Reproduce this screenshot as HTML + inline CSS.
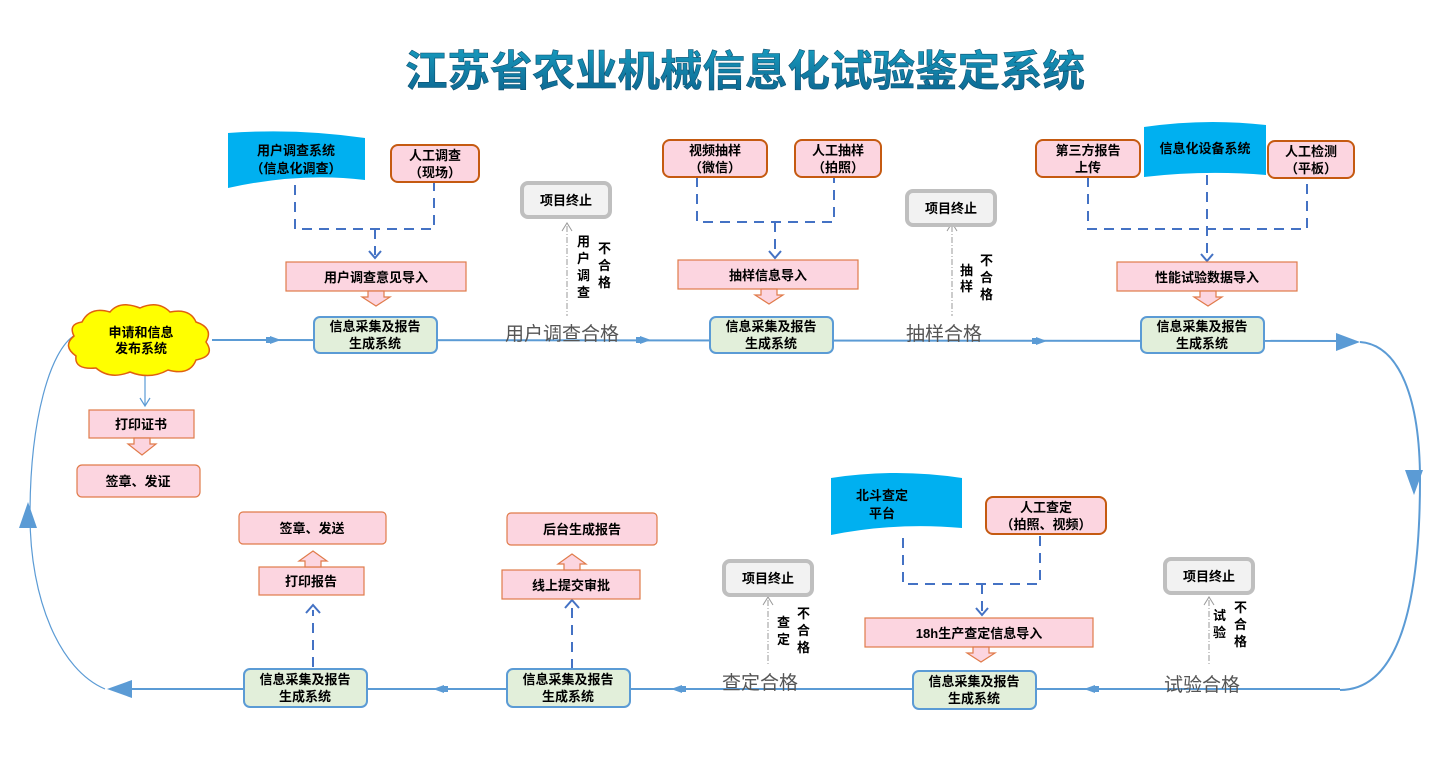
<!DOCTYPE html>
<html><head><meta charset="utf-8"><style>
html,body{margin:0;padding:0;background:#fff;}
svg{display:block;font-family:"Liberation Sans","Noto Sans CJK SC",sans-serif;}
.b{font-weight:bold;font-size:13px;fill:#000;text-anchor:middle;}
.g{font-size:19px;fill:#555;}
.v{font-weight:bold;font-size:13px;fill:#000;}
</style></head><body>
<svg width="1448" height="757" viewBox="0 0 1448 757" xmlns="http://www.w3.org/2000/svg">
<defs>
<linearGradient id="tg" x1="0" y1="0" x2="0" y2="1"><stop offset="0" stop-color="#1aa6c8"/><stop offset="1" stop-color="#0b5f8a"/></linearGradient>
</defs>
<text x="745" y="86" text-anchor="middle" font-size="42.5" font-weight="bold" fill="url(#tg)" stroke="#0b4f70" stroke-width="0.6" style="font-family:'Noto Sans CJK SC',sans-serif">江苏省农业机械信息化试验鉴定系统</text>

<g stroke="#5b9bd5" stroke-width="2" fill="none">
<line x1="212" y1="340" x2="1345" y2="341"/>
<path d="M1360 342 C1400 345 1420 400 1420 480 C1420 600 1400 690 1340 690"/>
<line x1="1340" y1="689" x2="120" y2="689"/>
<path d="M105 689 C60 670 30 600 30 515 C30 420 50 350 75 335" stroke-width="1.2"/>
<line x1="145" y1="370" x2="145" y2="405" stroke-width="1.2"/>
</g>
<g fill="#5b9bd5">
<polygon points="1336,333 1360,342 1336,351"/>
<polygon points="1405,470 1423,470 1414,495"/>
<polygon points="132,680 107,689 132,698"/>
<polygon points="19,528 37,528 28,502"/>
<polygon points="270,336 281,340 270,344"/><rect x="266" y="337" width="5" height="6"/>
<polygon points="640,336 651,340 640,344"/><rect x="636" y="337" width="5" height="6"/>
<polygon points="1036,337 1047,341 1036,345"/><rect x="1032" y="338" width="5" height="6"/>
<polygon points="1095,685 1084,689 1095,693"/><rect x="1094" y="686" width="5" height="6"/>
<polygon points="682,685 671,689 682,693"/><rect x="681" y="686" width="5" height="6"/>
<polygon points="444,685 433,689 444,693"/><rect x="443" y="686" width="5" height="6"/>
</g>
<polyline points="140,398 145,406 150,398" fill="none" stroke="#5b9bd5" stroke-width="1.2"/>

<g stroke="#4472c4" stroke-width="2" fill="none" stroke-dasharray="10,7">
<path d="M295 185 V229 H434 V182"/><path d="M375 229 V255"/>
<path d="M697 177 V222 H834 V177"/><path d="M775 222 V255"/>
<path d="M1088 177 V229 H1307 V177"/><path d="M1207 175 V258"/>
<path d="M903 538 V584 H1040 V534"/><path d="M982 584 V612"/>
<path d="M313 667 V610"/><path d="M572 669 V605"/>
</g>
<g stroke="#4472c4" stroke-width="2" fill="none">
<polyline points="369,251 375,258 381,251"/><polyline points="769,251 775,258 781,251"/>
<polyline points="1201,254 1207,261 1213,254"/><polyline points="976,608 982,615 988,608"/>
<polyline points="306,613 313,605 320,613"/><polyline points="565,608 572,600 579,608"/>
</g>
<g stroke="#999" stroke-width="1" fill="none" stroke-dasharray="6,2,1,2">
<line x1="567" y1="226" x2="567" y2="316"/><line x1="952" y1="226" x2="952" y2="316"/>
<line x1="768" y1="600" x2="768" y2="664"/><line x1="1209" y1="600" x2="1209" y2="664"/>
</g>
<g stroke="#999" stroke-width="1" fill="none">
<polyline points="562,231 567,223 572,231"/><polyline points="947,231 952,223 957,231"/>
<polyline points="763,605 768,597 773,605"/><polyline points="1204,605 1209,597 1214,605"/>
</g>

<g fill="#00b0f0">
<path d="M228 133 Q296 128 365 138 V180 Q300 172 228 188 Z"/>
<path d="M1144 127 Q1205 118 1266 125 V175 Q1205 170 1144 177 Z"/>
<path d="M831 478 Q896 468 962 478 V528 Q896 522 831 535 Z"/>
</g>
<text class="b" x="296" y="155">用户调查系统</text><text class="b" x="296" y="173">（信息化调查）</text>
<text class="b" x="1205" y="153">信息化设备系统</text>
<text class="b" x="882" y="500">北斗查定</text><text class="b" x="882" y="518">平台</text>

<g fill="#fcd5e0" stroke="#c55a11" stroke-width="2">
<rect x="391" y="145" width="88" height="37" rx="7"/>
<rect x="663" y="140" width="104" height="37" rx="7"/>
<rect x="795" y="140" width="86" height="37" rx="7"/>
<rect x="1036" y="140" width="104" height="37" rx="7"/>
<rect x="1268" y="141" width="86" height="37" rx="7"/>
<rect x="986" y="497" width="120" height="37" rx="7"/>
</g>
<text class="b" x="435" y="160">人工调查</text><text class="b" x="435" y="177">（现场）</text>
<text class="b" x="715" y="155">视频抽样</text><text class="b" x="715" y="172">（微信）</text>
<text class="b" x="838" y="155">人工抽样</text><text class="b" x="838" y="172">（拍照）</text>
<text class="b" x="1088" y="155">第三方报告</text><text class="b" x="1088" y="172">上传</text>
<text class="b" x="1311" y="156">人工检测</text><text class="b" x="1311" y="173">（平板）</text>
<text class="b" x="1046" y="512">人工查定</text><text class="b" x="1046" y="529">（拍照、视频）</text>

<g fill="#fcd5e0" stroke="#e07b4a" stroke-width="1.2">
<rect x="286" y="262" width="180" height="29"/>
<rect x="678" y="260" width="180" height="29"/>
<rect x="1117" y="262" width="180" height="29"/>
<rect x="865" y="618" width="228" height="29"/>
<rect x="259" y="567" width="105" height="28"/>
<rect x="502" y="570" width="138" height="29"/>
<rect x="89" y="410" width="105" height="28"/>
<rect x="239" y="512" width="147" height="32" rx="4"/>
<rect x="507" y="513" width="150" height="32" rx="4"/>
<rect x="77" y="465" width="123" height="32" rx="5"/>
<polygon points="368,291 384,291 384,297 390,297 376,306 362,297 368,297"/>
<polygon points="761,289 777,289 777,295 783,295 769,304 755,295 761,295"/>
<polygon points="1200,291 1216,291 1216,297 1222,297 1208,306 1194,297 1200,297"/>
<polygon points="973,647 989,647 989,653 995,653 981,662 967,653 973,653"/>
<polygon points="134,438 150,438 150,444 156,444 142,455 128,444 134,444"/>
<polygon points="305,567 321,567 321,561 327,561 313,551 299,561 305,561"/>
<polygon points="564,570 580,570 580,564 586,564 572,554 558,564 564,564"/>
</g>
<text class="b" x="376" y="282">用户调查意见导入</text>
<text class="b" x="768" y="280">抽样信息导入</text>
<text class="b" x="1207" y="282">性能试验数据导入</text>
<text class="b" x="979" y="638">18h生产查定信息导入</text>
<text class="b" x="311" y="586">打印报告</text>
<text class="b" x="571" y="590">线上提交审批</text>
<text class="b" x="141" y="429" font-size="14">打印证书</text>
<text class="b" x="312" y="533" font-size="14">签章、发送</text>
<text class="b" x="582" y="534" font-size="14">后台生成报告</text>
<text class="b" x="138" y="486" font-size="14">签章、发证</text>

<g fill="#e2efda" stroke="#5b9bd5" stroke-width="2">
<rect x="314" y="317" width="123" height="36" rx="6"/>
<rect x="710" y="317" width="123" height="36" rx="6"/>
<rect x="1141" y="317" width="123" height="36" rx="6"/>
<rect x="244" y="669" width="123" height="38" rx="6"/>
<rect x="507" y="669" width="123" height="38" rx="6"/>
<rect x="913" y="671" width="123" height="38" rx="6"/>
</g>
<text class="b" x="375" y="331">信息采集及报告</text><text class="b" x="375" y="348">生成系统</text>
<text class="b" x="771" y="331">信息采集及报告</text><text class="b" x="771" y="348">生成系统</text>
<text class="b" x="1202" y="331">信息采集及报告</text><text class="b" x="1202" y="348">生成系统</text>
<text class="b" x="305" y="684">信息采集及报告</text><text class="b" x="305" y="701">生成系统</text>
<text class="b" x="568" y="684">信息采集及报告</text><text class="b" x="568" y="701">生成系统</text>
<text class="b" x="974" y="686">信息采集及报告</text><text class="b" x="974" y="703">生成系统</text>

<g fill="#f2f2f2" stroke="#bfbfbf" stroke-width="4">
<rect x="522" y="183" width="88" height="34" rx="6"/>
<rect x="907" y="191" width="88" height="34" rx="6"/>
<rect x="724" y="561" width="88" height="34" rx="6"/>
<rect x="1165" y="559" width="88" height="34" rx="6"/>
</g>
<text class="b" x="566" y="205">项目终止</text>
<text class="b" x="951" y="213">项目终止</text>
<text class="b" x="768" y="583">项目终止</text>
<text class="b" x="1209" y="581">项目终止</text>

<g class="v">
<text x="577" y="246">用</text><text x="577" y="263">户</text><text x="577" y="280">调</text><text x="577" y="297">查</text>
<text x="598" y="253">不</text><text x="598" y="270">合</text><text x="598" y="287">格</text>
<text x="960" y="275">抽</text><text x="960" y="291">样</text>
<text x="980" y="265">不</text><text x="980" y="282">合</text><text x="980" y="299">格</text>
<text x="777" y="627">查</text><text x="777" y="644">定</text>
<text x="797" y="618">不</text><text x="797" y="635">合</text><text x="797" y="652">格</text>
<text x="1213" y="620">试</text><text x="1213" y="637">验</text>
<text x="1234" y="612">不</text><text x="1234" y="629">合</text><text x="1234" y="646">格</text>
</g>
<text class="g" x="505" y="340">用户调查合格</text>
<text class="g" x="906" y="340">抽样合格</text>
<text class="g" x="722" y="689">查定合格</text>
<text class="g" x="1164" y="691">试验合格</text>

<path d="M82 322 Q90 306 110 312 Q120 300 140 308 Q158 300 170 312 Q190 308 196 322 Q214 328 206 342 Q216 356 196 360 Q190 376 168 370 Q150 380 130 372 Q110 380 96 368 Q74 370 76 356 Q62 346 74 336 Q68 324 82 322 Z" fill="#ffff00" stroke="#e06010" stroke-width="1.5"/>
<text class="b" x="141" y="337">申请和信息</text><text class="b" x="141" y="353">发布系统</text>
</svg>
</body></html>
